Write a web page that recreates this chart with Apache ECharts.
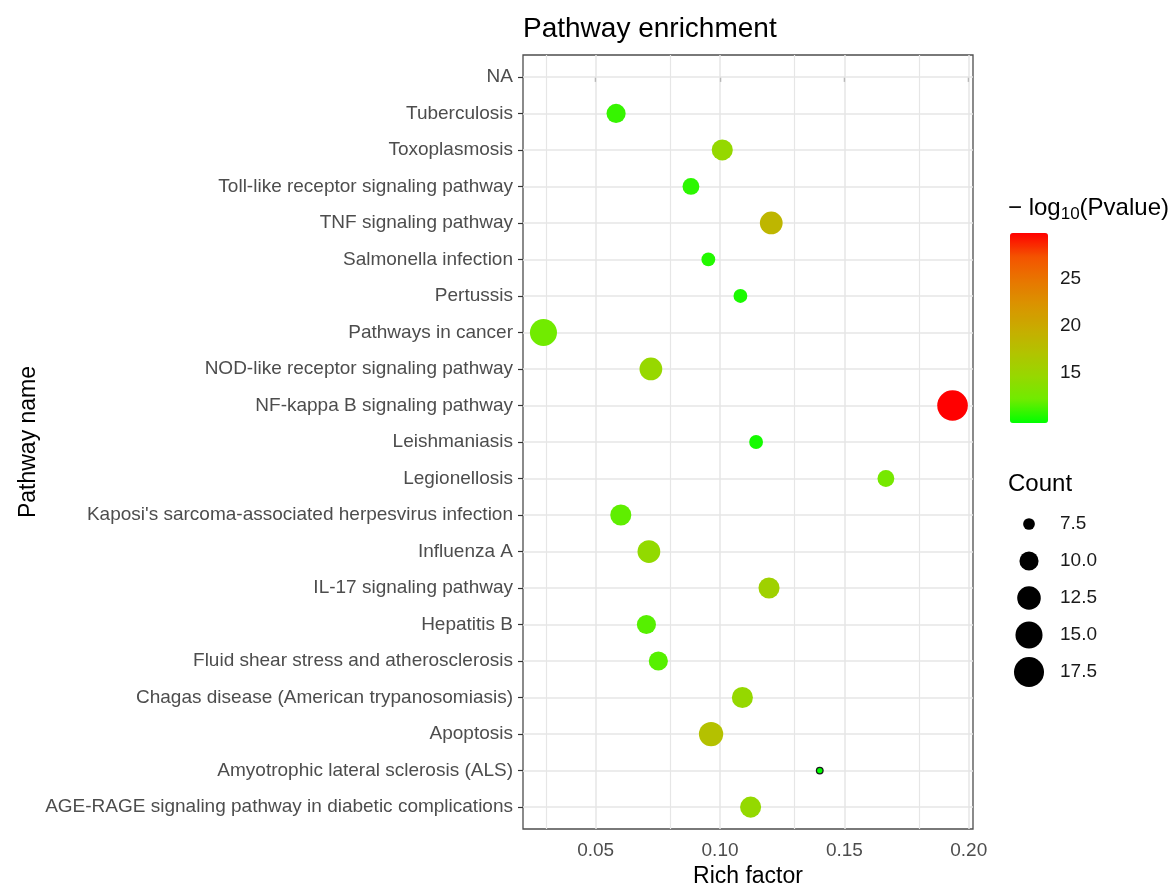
<!DOCTYPE html>
<html>
<head>
<meta charset="utf-8">
<script src="https://cdn.jsdelivr.net/npm/echarts@6/dist/echarts.min.js"></script>
<style>
  html, body { margin: 0; padding: 0; background: #fff; }
  #chart { width: 1173px; height: 886px; }
</style>
</head>
<body>
<div id="chart"></div>
<script>
// ---------------- data ----------------
const categories = [
  'NA',
  'Tuberculosis',
  'Toxoplasmosis',
  'Toll-like receptor signaling pathway',
  'TNF signaling pathway',
  'Salmonella infection',
  'Pertussis',
  'Pathways in cancer',
  'NOD-like receptor signaling pathway',
  'NF-kappa B signaling pathway',
  'Leishmaniasis',
  'Legionellosis',
  "Kaposi's sarcoma-associated herpesvirus infection",
  'Influenza A',
  'IL-17 signaling pathway',
  'Hepatitis B',
  'Fluid shear stress and atherosclerosis',
  'Chagas disease (American trypanosomiasis)',
  'Apoptosis',
  'Amyotrophic lateral sclerosis (ALS)',
  'AGE-RAGE signaling pathway in diabetic complications'
];
const richFactor = [null, 0.0582, 0.1009, 0.0883, 0.1206, 0.0953, 0.1082, 0.0290, 0.0722, 0.1935, 0.1145,
                    0.1667, 0.0601, 0.0714, 0.1197, 0.0704, 0.0752, 0.1090, 0.0964, 0.1401, 0.1123];
const counts = [null, 10, 11, 9, 12, 8, 8, 15, 12, 18, 8, 9, 11, 12, 11, 10, 10, 11, 13, 7, 11];
const negLog10P = [null, 11.3, 14.8, 11.1, 18.6, 10.9, 10.7, 12.6, 14.9, 29.4, 10.6,
                   12.9, 12.2, 14.6, 15.6, 12.0, 12.0, 14.8, 17.5, 10.15, 14.7];
const xBreaks = [0.05, 0.10, 0.15, 0.20];
const pBreaks = [15, 20, 25];
const countBreaks = [7.5, 10.0, 12.5, 15.0, 17.5];

// ---------------- scales ----------------
const valid = richFactor.map((v, i) => i).filter(i => richFactor[i] != null);
const xs = valid.map(i => richFactor[i]);
const xLo = Math.min(...xs), xHi = Math.max(...xs);
const xMin = xLo - 0.05 * (xHi - xLo), xMax = xHi + 0.05 * (xHi - xLo);
const cs = valid.map(i => counts[i]);
const cMin = Math.min(...cs), cMax = Math.max(...cs);
const ps = valid.map(i => negLog10P[i]);
const pMin = Math.min(...ps), pMax = Math.max(...ps);
const sizeRange = [6.6, 30.6];
const sizeOf = c => sizeRange[0] + (sizeRange[1] - sizeRange[0]) * Math.sqrt(Math.max(0, c - cMin) / (cMax - cMin));
const colorStops = ['#00FF00', '#70EB00', '#98D700', '#B3C200', '#C9AB00', '#DA9300', '#E87600', '#F45300', '#FF0000'];

const pointData = valid.map(i => {
  const item = { value: [richFactor[i], i, counts[i], negLog10P[i]] };
  if (counts[i] === cMin) item.itemStyle = { borderColor: '#1a1a1a', borderWidth: 1.3 };
  return item;
});

const xStep = xBreaks[1] - xBreaks[0];
const vLines = [];
xBreaks.forEach(b => {
  vLines.push({ xAxis: b - xStep / 2, lineStyle: { width: 1.2 } });
  vLines.push({ xAxis: b, lineStyle: { width: 1.5 } });
});
const hLines = categories.map((c, i) => ({ yAxis: i }));

const FONT = '"Liberation Sans", Arial, Helvetica, sans-serif';
const chart = echarts.init(document.getElementById('chart'), null, { renderer: 'canvas' });

chart.setOption({
  animation: false,
  backgroundColor: '#ffffff',
  textStyle: { fontFamily: FONT },
  title: [
    { text: 'Pathway enrichment', left: 523, top: 15, padding: 0,
      textStyle: { fontFamily: FONT, fontSize: 28, fontWeight: 'normal', color: '#000' } },
    { text: '{a|\u2212 log}{b|10}{a|(Pvalue)}', left: 1008, top: 194, padding: 0,
      textStyle: { fontFamily: FONT, fontWeight: 'normal', color: '#000',
        rich: {
          a: { fontFamily: FONT, fontSize: 24, color: '#000' },
          b: { fontFamily: FONT, fontSize: 17, color: '#000', padding: [12, 0, 0, 0] }
        } } },
    { text: 'Count', left: 1008, top: 472, padding: 0,
      textStyle: { fontFamily: FONT, fontSize: 24, fontWeight: 'normal', color: '#000' } }
  ],
  grid: [
    { left: 523, top: 55, width: 450, height: 774, show: true, borderColor: '#4d4d4d', borderWidth: 1.3,
      backgroundColor: '#fff', containLabel: false, outerBoundsMode: 'none' },
    { left: 1010, top: 238, width: 38, height: 180, show: false, containLabel: false, outerBoundsMode: 'none' },
    { left: 1010, top: 505.5, width: 38, height: 185, show: false, containLabel: false, outerBoundsMode: 'none' }
  ],
  xAxis: [
    { type: 'value', gridIndex: 0, min: xMin, max: xMax,
      name: 'Rich factor', nameLocation: 'middle', nameGap: 31,
      nameTextStyle: { fontFamily: FONT, fontSize: 23, color: '#000' },
      axisLine: { show: false },
      axisTick: { show: true, length: 5, lineStyle: { color: '#333', width: 1.2 }, customValues: xBreaks },
      axisLabel: { show: true, margin: 12, fontFamily: FONT, fontSize: 19, color: '#4d4d4d',
                   customValues: xBreaks, formatter: v => v.toFixed(2) },
      splitLine: { show: false }, minorSplitLine: { show: false } },
    { type: 'value', gridIndex: 1, min: 0, max: 1, show: false },
    { type: 'value', gridIndex: 2, min: 0, max: 1, show: false }
  ],
  yAxis: [
    { type: 'value', gridIndex: 0, min: -0.6, max: categories.length - 1 + 0.6, inverse: true,
      name: 'Pathway name', nameLocation: 'middle', nameGap: 483,
      nameTextStyle: { fontFamily: FONT, fontSize: 23, color: '#000' },
      axisLine: { show: false },
      axisTick: { show: true, length: 5, lineStyle: { color: '#333', width: 1.2 },
                  customValues: categories.map((c, i) => i) },
      axisLabel: { show: true, margin: 10, fontFamily: FONT, fontSize: 19, color: '#4d4d4d',
                   customValues: categories.map((c, i) => i),
                   formatter: v => categories[Math.round(v)] },
      splitLine: { show: false } },
    { type: 'value', gridIndex: 1, min: pMin, max: pMax, position: 'right',
      axisLine: { show: false },
      axisTick: { show: true, inside: true, length: 7, lineStyle: { color: 'rgba(255,255,255,0.85)', width: 1 },
                  customValues: pBreaks },
      axisLabel: { show: true, margin: 12, fontFamily: FONT, fontSize: 19, color: '#1a1a1a',
                   customValues: pBreaks, formatter: v => String(v) },
      splitLine: { show: false } },
    { type: 'value', gridIndex: 1, min: pMin, max: pMax, position: 'left',
      axisLine: { show: false },
      axisTick: { show: true, inside: true, length: 7, lineStyle: { color: 'rgba(255,255,255,0.85)', width: 1 },
                  customValues: pBreaks },
      axisLabel: { show: false }, splitLine: { show: false } },
    { type: 'category', gridIndex: 2, data: countBreaks.map(v => v.toFixed(1)), inverse: true, position: 'right',
      axisLine: { show: false }, axisTick: { show: false },
      axisLabel: { show: true, margin: 12, fontFamily: FONT, fontSize: 19, color: '#1a1a1a' },
      splitLine: { show: false } }
  ],
  visualMap: [{
    type: 'continuous', min: pMin, max: pMax, dimension: 3, seriesIndex: 0,
    left: 1010, top: 233, itemWidth: 38, itemHeight: 190, padding: 0,
    calculable: false, hoverLink: false, text: null, showLabel: false,
    inRange: { color: colorStops }
  }],
  series: [
    { type: 'scatter', xAxisIndex: 0, yAxisIndex: 0, z: 3,
      data: pointData,
      symbol: 'circle',
      symbolSize: v => sizeOf(v[2]),
      itemStyle: { opacity: 1 },
      emphasis: { disabled: true },
      markLine: {
        silent: true, z: 1, animation: false, symbol: ['none', 'none'],
        label: { show: false },
        lineStyle: { color: '#e6e6e6', width: 1.5, type: 'solid' },
        emphasis: { disabled: true },
        data: vLines.concat(hLines)
      }
    },
    { type: 'scatter', xAxisIndex: 2, yAxisIndex: 3, z: 3,
      data: countBreaks.map((c, i) => [0.5, i, c]),
      symbol: 'circle',
      symbolSize: v => sizeOf(v[2]),
      itemStyle: { color: '#000', opacity: 1 },
      emphasis: { disabled: true }
    }
  ]
});
</script>
</body>
</html>
